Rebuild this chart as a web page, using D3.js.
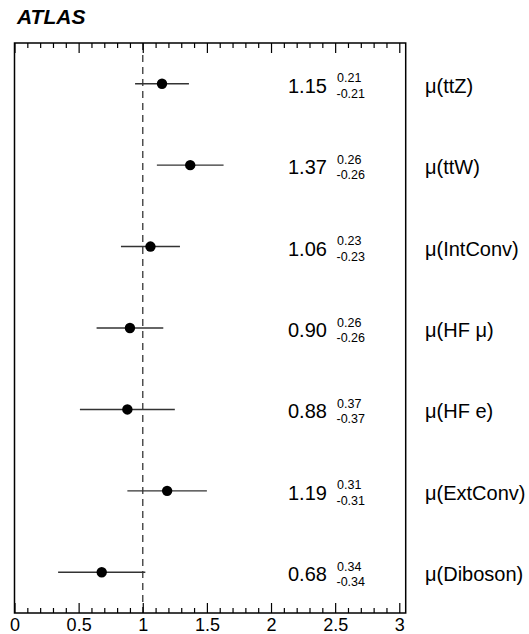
<!DOCTYPE html>
<html>
<head>
<meta charset="utf-8">
<script src="https://cdn.jsdelivr.net/npm/d3@7"></script>
<style>
  html, body { margin: 0; padding: 0; background: #fff; }
  svg { display: block; font-family: "Liberation Sans", Arial, Helvetica, sans-serif; }
</style>
</head>
<body>
<svg id="chart" width="529" height="634"></svg>
<script>
// Normalisation factors from the fit
const categories = ["μ(ttZ)", "μ(ttW)", "μ(IntConv)", "μ(HF μ)", "μ(HF e)", "μ(ExtConv)", "μ(Diboson)"];
const values     = [1.15, 1.37, 1.06, 0.90, 0.88, 1.19, 0.68];
const errUp      = [0.21, 0.26, 0.23, 0.26, 0.37, 0.31, 0.34];
const errDown    = [0.21, 0.26, 0.23, 0.26, 0.37, 0.31, 0.34];
const majorTicks = [0, 0.5, 1, 1.5, 2, 2.5, 3];
const tickLabels = ["0", "0.5", "1", "1.5", "2", "2.5", "3"];
const minorTicks = d3.range(0, 31).map(i => i / 10).filter(v => Math.abs(v * 2 - Math.round(v * 2)) > 1e-6);
const refValue = 1;

const svg = d3.select("#chart");
const frame = { left: 14.5, right: 405.7, top: 43, bottom: 613 };

const x = d3.scaleLinear().domain([0, 3.05]).range([frame.left, frame.right]);
const y = d3.scaleBand().domain(categories).range([frame.top, frame.bottom]);
const yc = c => y(c) + y.bandwidth() / 2;

// Experiment label
svg.append("text")
  .attr("x", 17).attr("y", 24)
  .attr("font-size", 21).attr("font-weight", "bold").attr("font-style", "italic")
  .text("ATLAS");

// Reference line at mu = 1
svg.append("line")
  .attr("x1", x(refValue)).attr("x2", x(refValue))
  .attr("y1", frame.top).attr("y2", frame.bottom)
  .attr("stroke", "#444").attr("stroke-width", 1.4)
  .attr("stroke-dasharray", "7,5");

// Ticks: major and minor, on top and bottom, pointing inwards
function tickAxis(axisFn, vals, size, yPos, labels) {
  const ax = axisFn(x).tickValues(vals).tickSize(-size).tickPadding(5)
    .tickFormat(labels ? (d, i) => labels[i] : () => "");
  const g = svg.append("g").attr("transform", `translate(0,${yPos})`).call(ax);
  g.select(".domain").remove();
  g.selectAll(".tick line").attr("stroke", "#000").attr("stroke-width", 1.2);
  g.selectAll(".tick text").attr("font-size", 18).attr("fill", "#000")
    .attr("font-family", "'Liberation Sans', Arial, sans-serif");
  return g;
}
tickAxis(d3.axisBottom, majorTicks, 10, frame.bottom, tickLabels);
tickAxis(d3.axisBottom, minorTicks, 5, frame.bottom, null);
tickAxis(d3.axisTop, majorTicks, 10, frame.top, null);
tickAxis(d3.axisTop, minorTicks, 5, frame.top, null);

// Frame
svg.append("rect")
  .attr("x", frame.left).attr("y", frame.top)
  .attr("width", frame.right - frame.left).attr("height", frame.bottom - frame.top)
  .attr("fill", "none").attr("stroke", "#000").attr("stroke-width", 1.5);

const rows = categories.map((c, i) => ({ c, v: values[i], up: errUp[i], dn: errDown[i] }));

// Error bars
svg.append("g").selectAll("line").data(rows).join("line")
  .attr("x1", d => x(d.v - d.dn)).attr("x2", d => x(d.v + d.up))
  .attr("y1", d => yc(d.c)).attr("y2", d => yc(d.c))
  .attr("stroke", "#333").attr("stroke-width", 1.4);

// Central values
svg.append("g").selectAll("circle").data(rows).join("circle")
  .attr("cx", d => x(d.v)).attr("cy", d => yc(d.c)).attr("r", 5.2)
  .attr("fill", "#000");

// Value with uncertainties
const txt = svg.append("g");
rows.forEach(d => {
  const cy = yc(d.c);
  txt.append("text").attr("x", 288).attr("y", cy + 9)
    .attr("font-size", 20).text(d.v.toFixed(2));
  txt.append("text").attr("x", 337).attr("y", cy - 1.5)
    .attr("font-size", 12.5).text(d.up.toFixed(2));
  txt.append("text").attr("x", 336.5).attr("y", cy + 14)
    .attr("font-size", 12.5).text("-" + d.dn.toFixed(2));
  // Parameter name
  txt.append("text").attr("x", 425).attr("y", cy + 9)
    .attr("font-size", 20).text(d.c);
});
</script>
</body>
</html>
